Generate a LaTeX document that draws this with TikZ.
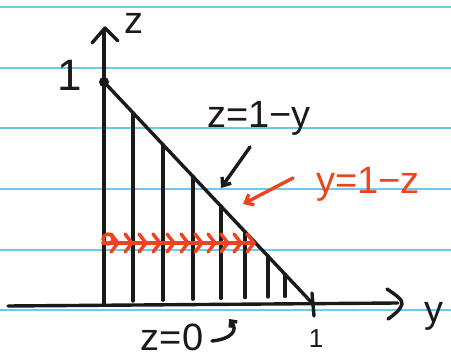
\documentclass[tikz,border=0pt]{standalone}
\usepackage{fontspec}
\setmainfont{Liberation Sans}
\usetikzlibrary{arrows.meta}
\definecolor{paperblue}{HTML}{6CCBEA}
\definecolor{inkred}{HTML}{F0421E}
\definecolor{ink}{HTML}{1A1A1A}
\tikzset{
  paperline/.style={paperblue, line width=1.8pt},
  inkline/.style={ink, line width=3.4pt, line cap=round, line join=round},
  redline/.style={inkred, line width=3.4pt, line cap=round, line join=round},
  lbl/.style={inner sep=0pt, font=\fontsize{38}{38}\selectfont},
  bigl/.style={inner sep=0pt, font=\fontsize{44}{44}\selectfont},
  smalll/.style={inner sep=0pt, font=\fontsize{26}{26}\selectfont},
}
\begin{document}
\begin{tikzpicture}[x=1pt,y=-1pt]
\useasboundingbox (0,0) rectangle (451,358);
\fill[white] (0,0) rectangle (451,358);
% notebook lines
\foreach \yy in {7,68,128,189,250,310} \draw[paperline] (0,\yy) -- (451,\yy);
% key points
\coordinate (O) at (104,304);
\coordinate (Ztop) at (104,30);
\coordinate (Yend) at (398,303);
\coordinate (Yleft) at (8,306);
\coordinate (A) at (104,82);
\coordinate (B) at (313,304);
% hatching
\foreach \x in {133,163,193,221,245,268,285}
  \draw[inkline] (\x,{82+(\x-104)*1.062}) -- (\x,{301-(\x-133)*0.03});
% axes
\draw[inkline] (O) -- (Ztop);
\draw[inkline] (92,43) -- (105,28) -- (118,41);
\draw[inkline] (Yleft) -- (Yend);
\draw[inkline] (387,289) .. controls (396,295) and (403,300) .. (402,304) .. controls (401,309) and (394,315) .. (388,319);
% hypotenuse
\draw[inkline] (A) -- (B);
\fill[ink] (A) circle (5);
\draw[inkline] (312,293) -- (314,316);
% red horizontal line with chevrons
\coordinate (R1) at (103,243);
\coordinate (R2) at (254,243);
\draw[redline] (R1) -- (R2);
\foreach \x in {118,132,146,160,174,188,202,215,228,241,254}
  \draw[redline] (\x-7,234) -- (\x,243) -- (\x-7,252);
\draw[redline] (108,239) circle (5);
% labels
\node[bigl, ink] (one) at (70,75) {1};
\node[lbl, ink, anchor=base] (zlab) at (134,34) {z};
\node[lbl, ink] (hyp) at (259,118) {z=1−y};
\node[lbl, inkred] (hypr) at (368,184) {y=1−z};
\node[lbl, ink] (ylab) at (434,316) {y};
\node[smalll, ink] (oney) at (316,339) {1};
\node[lbl, ink] (zzero) at (172,337) {z=0};
% pointer arrows
\coordinate (P1) at (250,147);
\coordinate (P2) at (221,188);
\draw[inkline, -{Straight Barb[length=7pt,width=11pt]}] (P1) -- (P2);
\coordinate (Q1) at (293,178);
\coordinate (Q2) at (243,204);
\draw[redline, -{Straight Barb[length=7pt,width=12pt]}] (Q1) -- (Q2);
\coordinate (C1) at (212,341);
\coordinate (C2) at (229,319);
\draw[inkline, -{Straight Barb[length=5pt,width=9pt]}] (C1) .. controls (232,339) and (238,330) .. (C2);
\end{tikzpicture}
\end{document}
